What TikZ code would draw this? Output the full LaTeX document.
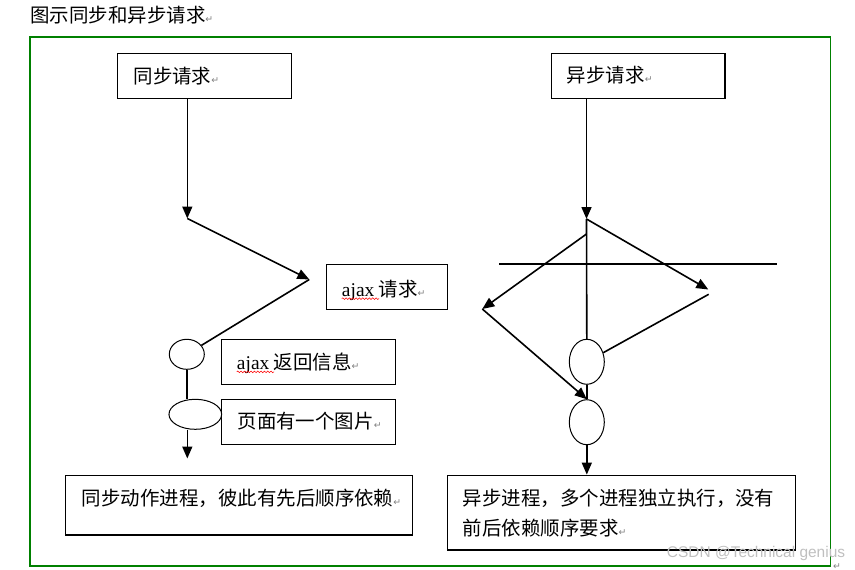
\documentclass[tikz,border=0pt]{standalone}
\usepackage{fontspec}
\setmainfont{Liberation Serif}
\newfontfamily\cjk{Noto Sans CJK SC}
\newfontfamily\symfnt{DejaVu Sans}
\newfontfamily\wmfnt{Liberation Sans}
\usetikzlibrary{arrows.meta,shapes.geometric,decorations.pathmorphing}
\newcommand{\pmark}{{\symfnt\fontsize{7}{8}\selectfont\textcolor{gray}{↵}}}
\newcommand{\lat}[1]{{\rmfamily #1}}
\begin{document}
\begin{tikzpicture}[x=0.75pt,y=-0.75pt,
  txt/.style={anchor=base west,inner sep=0pt,font=\cjk\fontsize{14.6}{18}\selectfont},
  box/.style={draw,line width=1.1pt,inner sep=0pt,minimum height=33.75pt},
  oval/.style={draw,ellipse,line width=0.75pt,inner sep=0pt},
  ln/.style={line width=1.2pt},
  arr/.style={line width=1.2pt,-{Triangle[length=9pt,width=7.5pt]}},
  squig/.style={red,line width=0.4pt,decorate,decoration={snake,amplitude=0.6pt,segment length=2.5pt}}]
\useasboundingbox (0,0) rectangle (855,570);
% frame
\draw[green!50!black,line width=0.8pt] (30,37) rectangle (830.5,566);
% title
\node[txt] (title) at (30,22.7) {图示同步和异步请求\pmark};
% boxes
\node[box,minimum width=130.8pt] (sync) at (204.5,75.8) {};
\node[box,minimum width=130pt] (async) at (638.35,75.8) {};
\node[box,minimum width=90.45pt] (ajreq) at (387,286.8) {};
\node[box,minimum width=130.2pt] (ajret) at (308.5,361.8) {};
\node[box,minimum width=130.2pt] (page) at (308.5,421.8) {};
\node[box,minimum width=260pt,minimum height=44.8pt] (bl) at (239,505.15) {};
\node[box,minimum width=261.3pt,minimum height=56pt] (br) at (621.5,512.65) {};
% texts
\node[txt] (tsync) at (133.3,83.5) {同步请求\pmark};
\node[txt] (tasync) at (566.7,83) {异步请求\pmark};
\node[txt] (tajreq) at (341.7,296) {\lat{ajax} 请求\pmark};
\node[txt] (tajret) at (236.7,369.2) {\lat{ajax} 返回信息\pmark};
\node[txt] (tpage) at (237.3,428.9) {页面有一个图片\pmark};
\node[txt] (tbl) at (81.7,505.5) {同步动作进程，彼此有先后顺序依赖\pmark};
\node[txt] (tbr1) at (462.7,505.5) {异步进程，多个进程独立执行，没有};
\node[txt] (tbr2) at (462.7,535.2) {前后依赖顺序要求\pmark};
\draw[squig] ([yshift=-2pt]tajreq.base west) -- ++(28pt,0);
\draw[squig] ([yshift=-2pt]tajret.base west) -- ++(28pt,0);
% ellipses
\node[oval,minimum width=26.25pt,minimum height=22.5pt] (e1) at (186.8,354.3) {};
\node[oval,minimum width=39.5pt,minimum height=22.5pt] (e2) at (195.3,414.3) {};
\node[oval,minimum width=26.25pt,minimum height=33.75pt] (r1) at (586.8,361.8) {};
\node[oval,minimum width=26.25pt,minimum height=33.75pt] (r2) at (586.8,422.2) {};
% junction coordinates
\coordinate (sA) at (187.3,218.5);
\coordinate (sB) at (309.3,279.5);
\coordinate (sEnd) at (187.3,458.5);
\coordinate (aA) at (586.5,219);
\coordinate (aR) at (708.3,289.5);
\coordinate (aRs) at (708.7,294.3);
\coordinate (aLs) at (586.5,234);
\coordinate (aL) at (482.3,309);
\coordinate (h1) at (499.3,264);
\coordinate (h2) at (777.3,264);
% left connectors
\draw[arr] (sync.south -| sA) -- (sA);
\draw[arr] (sA) -- (sB);
\draw[ln] (sB) -- (e1);
\draw[ln] (e1.south) -- (e1.south |- e2.north);
\draw[arr] (sEnd |- e2.south) -- (sEnd);
% right connectors
\draw[arr] (async.south -| aA) -- (aA);
\draw[arr] (aA) -- (aR);
\draw[ln] (aA) -- (r1.north);
\draw[arr] (aLs) -- (aL);
\draw[arr] (aL) -- (r2.north);
\draw[ln] (r1) -- (aRs);
\draw[ln] (r1.south) -- (r2.north);
\draw[arr] (r2.south) -- (r2.south |- br.north);
\draw[line width=0.9pt] (h1) -- (h2);
% watermark and end mark
\node[anchor=west,inner sep=0pt,text=gray!50,font=\wmfnt\fontsize{11.6}{13}\selectfont] (wm) at (666.7,553.5) {CSDN @Technical genius};
\node[anchor=center,inner sep=0pt] (endmark) at (837,566.5) {\pmark};
\end{tikzpicture}
\end{document}
